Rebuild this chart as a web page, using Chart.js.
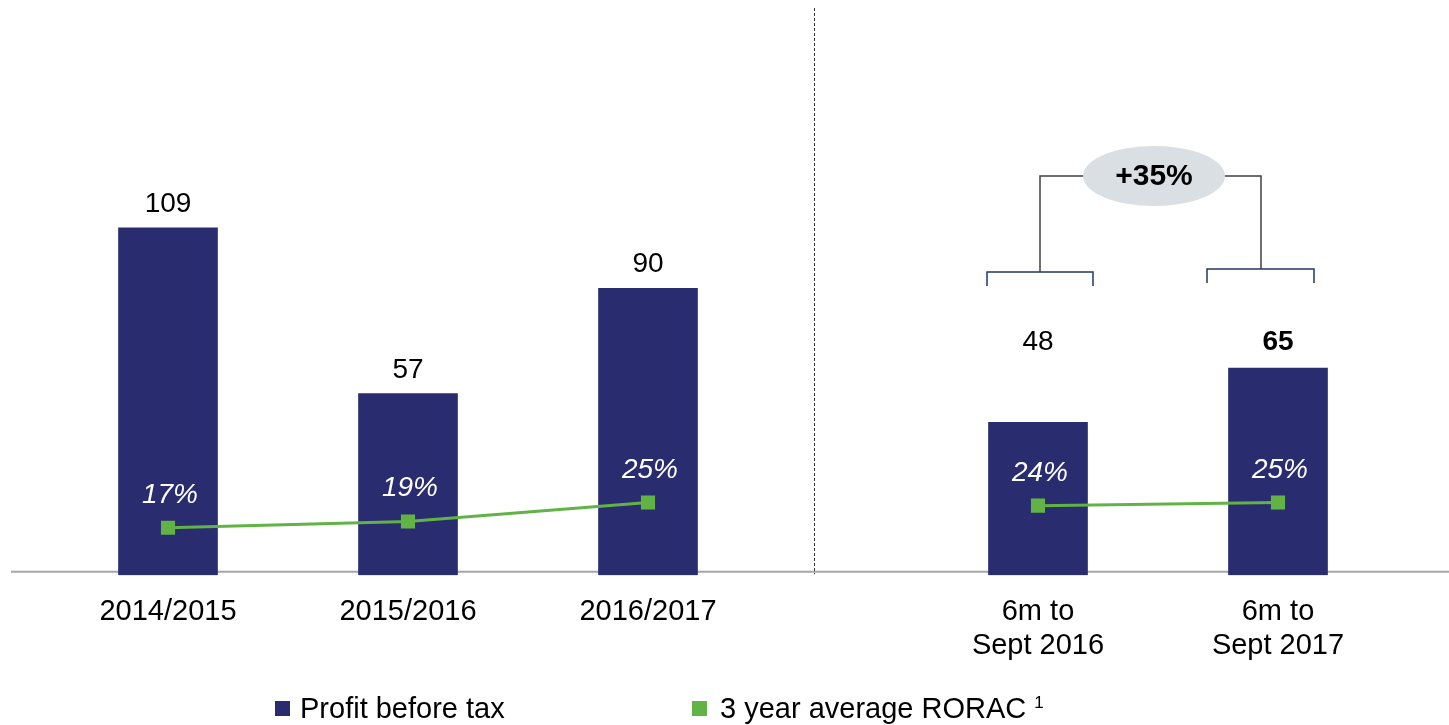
<!DOCTYPE html>
<html>
<head>
<meta charset="utf-8">
<script src="https://cdn.jsdelivr.net/npm/chart.js@4"></script>
<style>
  html, body { margin: 0; padding: 0; background: #ffffff; }
  #wrap { width: 1449px; height: 725px; position: relative; }
</style>
</head>
<body>
<div id="wrap"><canvas id="chart" width="1449" height="725"></canvas></div>
<script>
// Periods shown on the x axis (two full years panels + two half-year panels)
const categories = ['2014/2015', '2015/2016', '2016/2017', ['6m to', 'Sept 2016'], ['6m to', 'Sept 2017']];
// Profit before tax (bars)
const profitBeforeTax = [109, 57, 90, 48, 65];
// 3 year average RORAC, % (line)
const rorac = [17, 19, 25, 24, 25];
// Which periods belong to the annual panel and which to the half-year panel
const annualIdx = [0, 1, 2];
const halfYearIdx = [3, 4];
const growthLabel = '+35%';

// ---- layout of the slots along the linear x scale ----
const slot = [0, 1, 2, 3.625, 4.625];
const separatorAt = 2.69;

const FONT = '"Liberation Sans", Arial, Helvetica, sans-serif';
const NAVY = '#2a2c70';
const GREEN = '#62b346';

const pts = (idx, vals) => idx.map(i => ({ x: slot[i], y: vals[i] }));

// Grey baseline and dashed panel divider, drawn beneath the marks
const backdropPlugin = {
  id: 'backdrop',
  beforeDatasetsDraw(chart) {
    const { ctx, chartArea, scales } = chart;
    ctx.save();
    ctx.strokeStyle = '#a6a6a6';
    ctx.lineWidth = 2;
    ctx.beginPath();
    const by = chartArea.bottom - 3.5;
    ctx.moveTo(chartArea.left + 11, by);
    ctx.lineTo(chartArea.right, by);
    ctx.stroke();

    const sx = Math.round(scales.x.getPixelForValue(separatorAt)) + 0.5;
    ctx.strokeStyle = '#333333';
    ctx.lineWidth = 1;
    ctx.setLineDash([3, 2]);
    ctx.beginPath();
    ctx.moveTo(sx, chartArea.top - 2);
    ctx.lineTo(sx, chartArea.bottom - 1);
    ctx.stroke();
    ctx.restore();
  }
};

// Value labels above the bars and RORAC labels above the markers
const labelPlugin = {
  id: 'valueLabels',
  afterDatasetsDraw(chart) {
    const { ctx } = chart;
    const bars = chart.getDatasetMeta(0).data;
    ctx.save();
    ctx.textAlign = 'center';
    ctx.textBaseline = 'alphabetic';
    ctx.fillStyle = '#000000';
    annualIdx.forEach(i => {
      ctx.font = '28px ' + FONT;
      ctx.fillText(String(profitBeforeTax[i]), bars[i].x, bars[i].y - 16);
    });
    const halfTop = Math.min(...halfYearIdx.map(i => bars[i].y));
    const last = halfYearIdx[halfYearIdx.length - 1];
    halfYearIdx.forEach(i => {
      ctx.font = (i === last ? 'bold ' : '') + '28px ' + FONT;
      ctx.fillText(String(profitBeforeTax[i]), bars[i].x, halfTop - 18);
    });

    ctx.fillStyle = '#ffffff';
    ctx.font = 'italic 28px ' + FONT;
    [1, 2].forEach(d => {
      const meta = chart.getDatasetMeta(d);
      const idx = d === 1 ? annualIdx : halfYearIdx;
      meta.data.forEach((p, k) => {
        ctx.fillText(rorac[idx[k]] + '%', p.x + 2, p.y - 25);
      });
    });
    ctx.restore();
  }
};

// Growth bracket across the half-year bars, plus the legend row
const overlayPlugin = {
  id: 'overlay',
  afterDraw(chart) {
    const { ctx } = chart;
    const bars = chart.getDatasetMeta(0).data;
    const a = bars[halfYearIdx[0]].x;
    const b = bars[halfYearIdx[1]].x;
    const cx = (a + b) / 2 - 4;
    const cy = 176;
    const rx = 71, ry = 30;

    ctx.save();
    // bracket feet
    ctx.strokeStyle = '#1f3864';
    ctx.lineWidth = 1.5;
    ctx.beginPath();
    ctx.moveTo(a - 51, 286); ctx.lineTo(a - 51, 272); ctx.lineTo(a + 55, 272); ctx.lineTo(a + 55, 286);
    ctx.moveTo(b - 71, 283); ctx.lineTo(b - 71, 269); ctx.lineTo(b + 36, 269); ctx.lineTo(b + 36, 283);
    ctx.stroke();
    // connectors
    ctx.strokeStyle = '#404040';
    ctx.beginPath();
    ctx.moveTo(a + 2, 272); ctx.lineTo(a + 2, cy); ctx.lineTo(cx - rx + 2, cy);
    ctx.moveTo(b - 17, 269); ctx.lineTo(b - 17, cy); ctx.lineTo(cx + rx - 2, cy);
    ctx.stroke();
    // bubble
    ctx.fillStyle = '#dadfe3';
    ctx.beginPath();
    ctx.ellipse(cx, cy, rx, ry, 0, 0, Math.PI * 2);
    ctx.fill();
    ctx.fillStyle = '#000000';
    ctx.font = 'bold 30px ' + FONT;
    ctx.textAlign = 'center';
    ctx.textBaseline = 'middle';
    ctx.fillText(growthLabel, cx, cy + 1);

    // legend
    ctx.textAlign = 'left';
    ctx.textBaseline = 'middle';
    ctx.font = '29px ' + FONT;
    ctx.fillStyle = NAVY;
    ctx.fillRect(275, 701, 15, 15);
    ctx.fillStyle = '#000000';
    ctx.fillText(chart.data.datasets[0].label, 300, 710);
    ctx.fillStyle = GREEN;
    ctx.fillRect(692, 701, 15, 15);
    ctx.fillStyle = '#000000';
    const txt = chart.data.datasets[1].label;
    ctx.fillText(txt, 720, 710);
    const w = ctx.measureText(txt).width;
    ctx.font = '17px ' + FONT;
    ctx.fillText('1', 720 + w + 8, 703);
    ctx.restore();
  }
};

new Chart(document.getElementById('chart'), {
  type: 'bar',
  data: {
    datasets: [
      {
        type: 'bar',
        label: 'Profit before tax',
        data: pts([0, 1, 2, 3, 4], profitBeforeTax),
        backgroundColor: NAVY,
        borderWidth: 0,
        barThickness: 99,
        yAxisID: 'y',
        order: 2
      },
      {
        type: 'line',
        label: '3 year average RORAC',
        data: pts(annualIdx, rorac),
        borderColor: GREEN,
        backgroundColor: GREEN,
        borderWidth: 3,
        pointStyle: 'rect',
        pointRadius: 10,
        pointBorderWidth: 0,
        tension: 0,
        yAxisID: 'y2',
        order: 0
      },
      {
        type: 'line',
        label: '3 year average RORAC',
        data: pts(halfYearIdx, rorac),
        borderColor: GREEN,
        backgroundColor: GREEN,
        borderWidth: 3,
        pointStyle: 'rect',
        pointRadius: 10,
        pointBorderWidth: 0,
        tension: 0,
        yAxisID: 'y2',
        order: 0
      }
    ]
  },
  options: {
    responsive: false,
    animation: false,
    events: [],
    layout: { autoPadding: false, padding: { top: 10, bottom: 42, left: 0, right: 0 } },
    plugins: { legend: { display: false }, tooltip: { enabled: false } },
    scales: {
      x: {
        type: 'linear',
        min: -0.7,
        max: 5.3375,
        offset: false,
        bounds: 'data',
        grid: { display: false, drawTicks: false },
        border: { display: false },
        afterBuildTicks(scale) {
          scale.ticks = slot.map(v => ({ value: v }));
        },
        ticks: {
          autoSkip: false,
          maxRotation: 0,
          minRotation: 0,
          padding: 20,
          color: '#000000',
          font: { family: FONT, size: 29, lineHeight: 1.17 },
          callback(value) {
            const i = slot.indexOf(value);
            return i >= 0 ? categories[i] : '';
          }
        }
      },
      y: {
        display: false,
        min: 0,
        max: 177.4
      },
      y2: {
        display: false,
        min: 2,
        max: 181
      }
    }
  },
  plugins: [backdropPlugin, labelPlugin, overlayPlugin]
});
</script>
</body>
</html>
